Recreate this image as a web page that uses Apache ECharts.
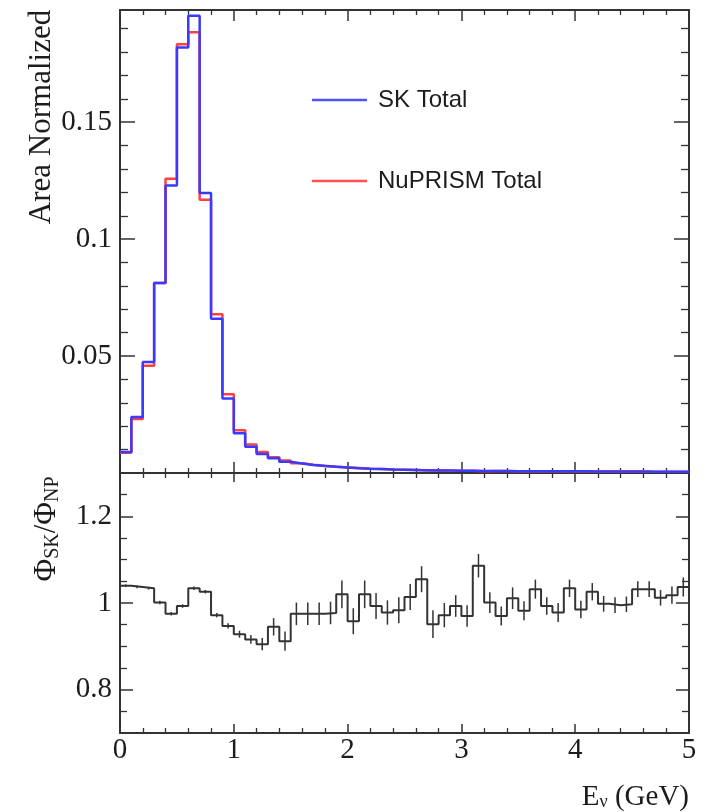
<!DOCTYPE html>
<html><head><meta charset="utf-8">
<script src="https://cdn.jsdelivr.net/npm/echarts@6/dist/echarts.min.js"></script>
<style>html,body{margin:0;padding:0;background:#fff}#c{width:714px;height:812px}</style>
</head><body><div id="c"></div>
<script>
// ---- data ----
const binEdges = [0,0.1,0.2,0.3,0.4,0.5,0.6,0.7,0.8,0.9,1,1.1,1.2,1.3,1.4,1.5,1.6,1.7,1.8,1.9,2,2.1,2.2,2.3,2.4,2.5,2.6,2.7,2.8,2.9,3,3.1,3.2,3.3,3.4,3.5,3.6,3.7,3.8,3.9,4,4.1,4.2,4.3,4.4,4.5,4.6,4.7,4.8,4.9,5];
const skTotal = [0.0090,0.0240,0.0475,0.0813,0.1230,0.1820,0.1955,0.1197,0.0660,0.0319,
  0.0170,0.0112,0.0081,0.0063,0.0048,0.0041,0.0034,0.0030,0.0027,0.0024,
  0.0020,0.0018,0.0017,0.0015,0.0014,0.0013,0.0012,0.0011,0.0011,0.0010,
  0.0010,0.0009,0.0009,0.0009,0.0008,0.0008,0.0008,0.0007,0.0007,0.0007,
  0.0007,0.0006,0.0006,0.0006,0.0006,0.0006,0.0005,0.0005,0.0005,0.0005];
const nuprismTotal = [0.0087,0.0231,0.0459,0.0812,0.1258,0.1834,0.1885,0.1169,0.0679,0.0337,
  0.0183,0.0122,0.0090,0.0067,0.0053,0.0042,0.0035,0.0031,0.0027,0.0024,
  0.0021,0.0018,0.0017,0.0015,0.0014,0.0013,0.0011,0.0012,0.0011,0.0010,
  0.0010,0.0008,0.0009,0.0009,0.0008,0.0008,0.0008,0.0007,0.0007,0.0007,
  0.0007,0.0006,0.0006,0.0006,0.0006,0.0006,0.0005,0.0005,0.0005,0.0005];
const ratio = [1.040,1.037,1.034,1.001,0.975,0.993,1.034,1.026,0.972,0.947,
  0.928,0.916,0.905,0.945,0.912,0.975,0.975,0.975,0.977,1.020,
  0.958,1.020,0.993,0.978,0.983,1.014,1.055,0.951,0.972,0.993,
  0.970,1.086,1.001,0.970,1.011,0.982,1.032,0.993,0.978,1.034,
  0.985,1.026,0.998,0.995,0.997,1.032,1.032,1.012,1.018,1.037];
const ratioErr = [0.003,0.003,0.003,0.004,0.004,0.004,0.004,0.004,0.005,0.006,
  0.008,0.010,0.014,0.020,0.022,0.026,0.026,0.026,0.026,0.032,
  0.030,0.032,0.030,0.028,0.030,0.030,0.030,0.032,0.028,0.025,
  0.025,0.027,0.024,0.022,0.025,0.022,0.022,0.020,0.022,0.020,
  0.020,0.020,0.018,0.018,0.018,0.018,0.018,0.018,0.020,0.022];
const xTicks = [0,1,2,3,4,5];
const xMinorTicks = [0.2,0.4,0.6,0.8,1.2,1.4,1.6,1.8,2.2,2.4,2.6,2.8,3.2,3.4,3.6,3.8,4.2,4.4,4.6,4.8];
const topYTicks = [0.05,0.1,0.15];
const topYMinorTicks = [0.01,0.02,0.03,0.04,0.06,0.07,0.08,0.09,0.11,0.12,0.13,0.14,0.16,0.17,0.18,0.19];
const ratioYTicks = [0.8,1,1.2];
const ratioYMinorTicks = [0.75,0.85,0.9,0.95,1.05,1.1,1.15,1.25];

// ---- helpers ----
function stepData(vals){
  const d = vals.map((v,i)=>[binEdges[i], v]);
  d.push([binEdges[binEdges.length-1], vals[vals.length-1]]);
  return d;
}
const FRAME = '#333';
const serif = 'Liberation Serif';
function axisPair(kind, grid, pos, min, max, majors, minors, majLen, minLen, labels){
  const base = {type:'value', gridIndex:grid, position:pos, min:min, max:max, splitLine:{show:false}};
  const a = Object.assign({}, base, {
    axisLine:{show:true, onZero:false, lineStyle:{color:FRAME, width:2}},
    axisTick:{show:true, inside:true, length:majLen, customValues:majors, lineStyle:{color:FRAME, width:1.5}},
    axisLabel: labels ? {show:true, customValues:majors, fontFamily:serif, fontSize:29, color:'#1c1c1c',
        margin: kind==='x' ? 3 : 8, formatter:(v)=>String(+v.toFixed(3))} : {show:false}
  });
  const b = Object.assign({}, base, {
    axisLine:{show:false, onZero:false},
    axisTick:{show:true, inside:true, length:minLen, customValues:minors, lineStyle:{color:FRAME, width:1.3}},
    axisLabel:{show:false}
  });
  return [a,b];
}
const xAxes = [].concat(
  axisPair('x',0,'bottom',0,5,xTicks,xMinorTicks,11,5,false),
  axisPair('x',0,'top',0,5,xTicks,xMinorTicks,11,5,false),
  axisPair('x',1,'bottom',0,5,xTicks,xMinorTicks,9,5,true),
  axisPair('x',1,'top',0,5,xTicks,xMinorTicks,9,5,false)
);
const yAxes = [].concat(
  axisPair('y',0,'left',0,0.198,topYTicks,topYMinorTicks,15,8,true),
  axisPair('y',0,'right',0,0.198,topYTicks,topYMinorTicks,15,8,false),
  axisPair('y',1,'left',0.7,1.3,ratioYTicks,ratioYMinorTicks,13,7,true),
  axisPair('y',1,'right',0.7,1.3,ratioYTicks,ratioYMinorTicks,13,7,false)
);

const errData = ratio.map((v,i)=>[(binEdges[i]+binEdges[i+1])/2, v, ratioErr[i]]);

const chart = echarts.init(document.getElementById('c'), null, {renderer:'canvas'});
chart.setOption({
  animation:false,
  backgroundColor:'#fff',
  grid:[
    {left:120, top:10, width:569, height:463},
    {left:120, top:473, width:569, height:260}
  ],
  xAxis:xAxes,
  yAxis:yAxes,
  legend:{
    data:[{name:'SK Total', icon:'rect'},{name:'NuPRISM Total', icon:'rect'}],
    orient:'vertical', left:312, top:88, padding:0,
    itemWidth:55, itemHeight:2.5, itemGap:57,
    textStyle:{fontFamily:'Liberation Sans', fontSize:24, color:'#1c1c1c', padding:[0,0,0,6]}
  },
  series:[
    {name:'NuPRISM Total', type:'line', step:'end', xAxisIndex:0, yAxisIndex:0, data:stepData(nuprismTotal),
      symbol:'none', lineStyle:{color:'#ff4040', width:2.5}, itemStyle:{color:'#ff5050'}, z:2},
    {name:'SK Total', type:'line', step:'end', xAxisIndex:0, yAxisIndex:0, data:stepData(skTotal),
      symbol:'none', lineStyle:{color:'#3a3aff', width:2.5}, itemStyle:{color:'#5050ff'}, z:3},
    {name:'ratio', type:'line', step:'end', xAxisIndex:4, yAxisIndex:4, data:stepData(ratio),
      symbol:'none', lineStyle:{color:'#333', width:2}, z:3},
    {name:'ratioErr', type:'custom', xAxisIndex:4, yAxisIndex:4, data:errData,
      encode:{x:0, y:1}, z:4,
      renderItem:function(params, api){
        const x = api.value(0), v = api.value(1), e = api.value(2);
        const p1 = api.coord([x, v-e]), p2 = api.coord([x, v+e]);
        return {type:'line', shape:{x1:p1[0], y1:p1[1], x2:p2[0], y2:p2[1]}, style:{stroke:'#333', lineWidth:1.5}};
      }}
  ],
  graphic:[
    {type:'text', x:42, y:117, rotation:Math.PI/2,
      style:{text:'Area Normalized', fontFamily:serif, fontSize:31, fill:'#1c1c1c', align:'center', verticalAlign:'middle'}},
    {type:'text', x:47, y:529, rotation:Math.PI/2,
      style:{text:'{b|Φ}{s|SK}{b|/Φ}{s|NP}', align:'center', verticalAlign:'middle',
        rich:{b:{fontFamily:serif, fontSize:31, fill:'#1c1c1c'}, s:{fontFamily:serif, fontSize:20, fill:'#1c1c1c', verticalAlign:'bottom'}}}},
    {type:'text', x:689, y:797,
      style:{text:'{b|E}{s|ν}{b| (GeV)}', align:'right', verticalAlign:'middle',
        rich:{b:{fontFamily:serif, fontSize:29, fill:'#1c1c1c'}, s:{fontFamily:serif, fontSize:18, fill:'#1c1c1c', verticalAlign:'bottom'}}}}
  ]
});
</script>
</body></html>
